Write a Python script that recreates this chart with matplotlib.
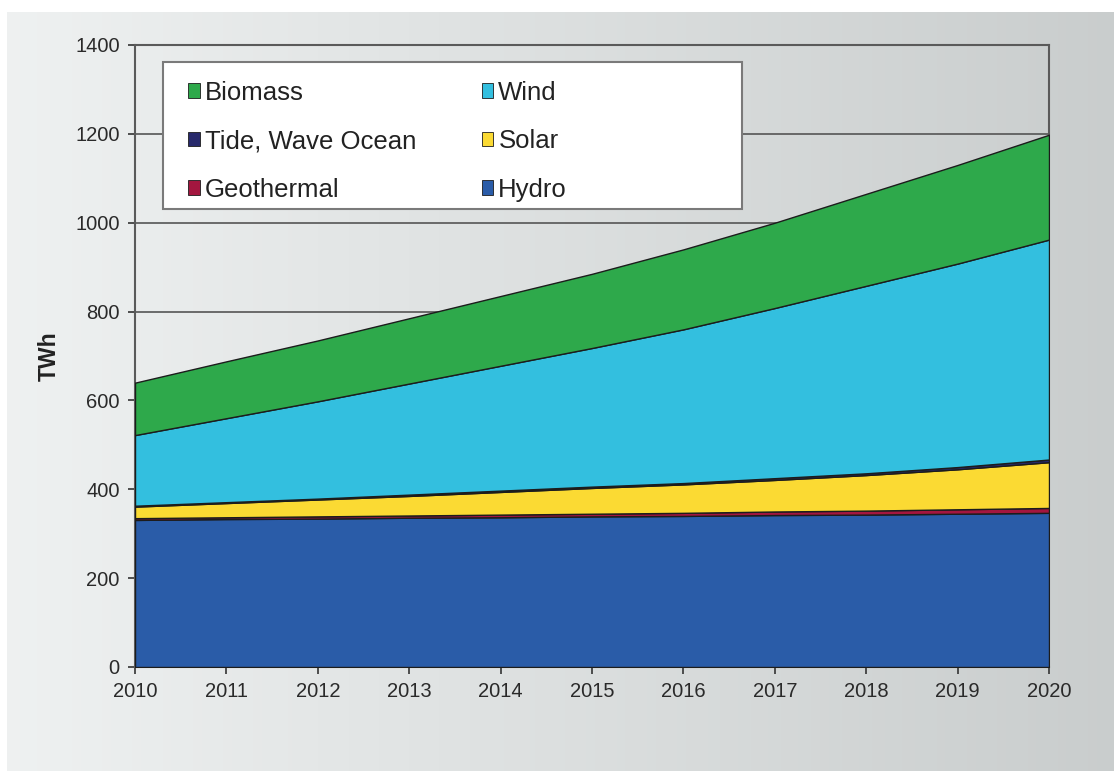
import numpy as np
import matplotlib
matplotlib.use("Agg")
import matplotlib.pyplot as plt
from matplotlib.patches import Rectangle

plt.rcParams['font.family'] = ['Liberation Sans', 'DejaVu Sans']

years = [2010, 2011, 2012, 2013, 2014, 2015, 2016, 2017, 2018, 2019, 2020]

# TWh per source, stacked bottom to top
hydro = [331, 333, 334, 336, 337, 339, 340, 342, 343, 345, 347]
geothermal = [4, 4, 5, 5, 6, 6, 7, 8, 9, 10, 11]
solar = [26, 32, 38, 44, 51, 58, 64, 71, 80, 90, 103]
tide = [2, 2, 2, 3, 3, 3, 3, 4, 4, 5, 6]
wind = [159, 189, 219, 250, 281, 312, 346, 383, 422, 458, 495]
biomass = [118, 128, 137, 147, 157, 167, 180, 192, 207, 222, 236]

labels = ['Hydro', 'Geothermal', 'Solar', 'Tide, Wave Ocean', 'Wind', 'Biomass']
colors = ['#2a5ca8', '#a3163f', '#fbda33', '#27296b', '#33bfdf', '#2ea94b']

yticks = [0, 200, 400, 600, 800, 1000, 1200, 1400]

fig = plt.figure(figsize=(11.14, 7.71), dpi=100)
fig.patch.set_facecolor('white')

# grey gradient backdrop
bg = fig.add_axes([7/1114, 0, 1 - 7/1114, 1 - 12/771], zorder=-10)
grad = np.linspace(0, 1, 256)
left_c = np.array([0.935, 0.945, 0.945])
right_c = np.array([0.79, 0.805, 0.805])
img = left_c[None, :] * (1 - grad[:, None]) + right_c[None, :] * grad[:, None]
bg.imshow(img[None, :, :], aspect='auto', extent=[0, 1, 0, 1])
bg.axis('off')

ax = fig.add_axes([135/1114, 1 - 667/771, 914/1114, 622/771])
ax.patch.set_alpha(0)

polys = ax.stackplot(years, hydro, geothermal, solar, tide, wind, biomass,
                     colors=colors, labels=labels,
                     edgecolor='#1c1c1c', linewidth=1.0, zorder=3)

ax.set_xlim(2010, 2020)
ax.set_ylim(0, 1400)
ax.set_xticks(years)
ax.set_yticks(yticks)
ax.tick_params(labelsize=14.5, colors='#333333', length=5, width=1.2, pad=6)
for t in ax.get_xticklabels() + ax.get_yticklabels():
    t.set_color('#2a2a2a')
ax.yaxis.grid(True, color='#555555', linewidth=1.2, zorder=1)
ax.set_axisbelow(True)
for s in ax.spines.values():
    s.set_color('#5a5a5a')
    s.set_linewidth(1.5)
ax.set_ylabel('TWh', fontsize=16.5, fontweight='bold', color='#222222', labelpad=10)

# legend box
ax.add_patch(Rectangle((0.0306, 0.736), 0.634, 0.2367, transform=ax.transAxes,
                       facecolor='white', edgecolor='#7a7a7a', linewidth=1.5, zorder=5))
order = [5, 3, 1, 4, 2, 0]
handles = [polys[i] for i in order]
leg = ax.legend(handles, [labels[i] for i in order], ncol=2, frameon=False,
                loc='upper left', bbox_to_anchor=(0.044, 0.963), borderpad=0,
                fontsize=18.5, handlelength=0.45, handleheight=0.5, handletextpad=0.2,
                labelspacing=0.95, columnspacing=2.55)
leg.set_zorder(6)
for t in leg.get_texts():
    t.set_color('#222222')
for h in leg.legend_handles:
    h.set_linewidth(0.6)

fig.savefig('out.png', dpi=100)
